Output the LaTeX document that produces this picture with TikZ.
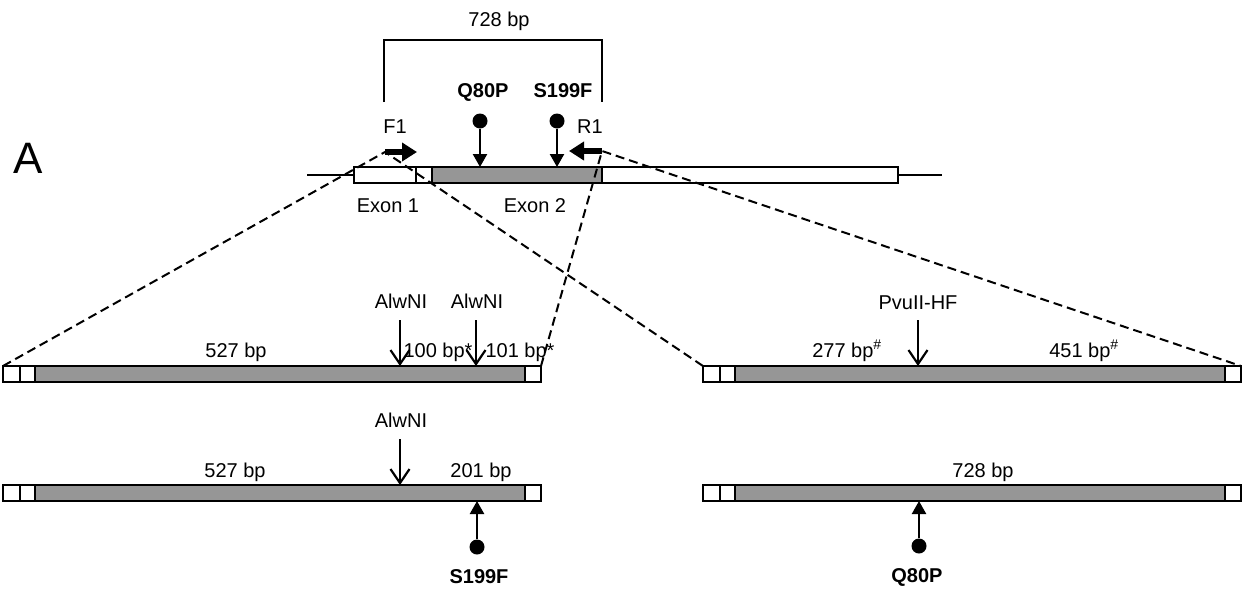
\documentclass[tikz,border=0pt]{standalone}
\usepackage{fontspec}
\setmainfont{Liberation Sans}
\usetikzlibrary{arrows.meta}
\definecolor{exongray}{RGB}{150,150,150}
\newcommand{\lblfont}{\fontsize{20}{23}\selectfont}

\begin{document}
\begin{tikzpicture}[x=1pt,y=-1pt,
  lbl/.style={font=\lblfont,anchor=base,inner sep=0pt},
  blbl/.style={font=\lblfont\bfseries,anchor=base,inner sep=0pt},
  segbox/.style={draw,line width=2.2pt},
  cutsite/.style={-{Straight Barb[length=14pt,width=19pt,line width=2.2pt]},line width=2.3pt},
  snp/.style={-{Triangle[length=13pt,width=14pt]},line width=2.3pt},
  snpdot/.style={circle,fill,inner sep=0pt,minimum size=15pt},
  primer/.style={-{Triangle[length=15pt,width=18pt]},line width=6pt},
  proj/.style={dash pattern=on 9pt off 5pt,line width=2pt}]
\useasboundingbox (0,0) rectangle (1245,590);
% panel letter
\node[font=\fontsize{44}{48}\selectfont,anchor=base,inner sep=0pt] (panel) at (28,173) {A};
% gene with exons
\draw[line width=2.2pt] (307,175) -- (942,175);
\draw[segbox,fill=white] (354,167) rectangle (416,183);
\draw[segbox,fill=white] (416,167) rectangle (432,183);
\draw[segbox,fill=exongray] (432,167) rectangle (602,183);
\draw[segbox,fill=white] (602,167) rectangle (898,183);
\node[lbl] (exon1) at (388,212) {Exon 1};
\node[lbl] (exon2) at (535,212) {Exon 2};
% amplicon bracket
\draw[line width=2.2pt] (384,102) |- (602,40) -- (602,102);
\node[lbl] (amplen) at (499,26) {728 bp};
% fragments
\foreach \fx/\fy in {3/366,703/366,3/485,703/485}{
  \draw[segbox,fill=white] (\fx,\fy) rectangle ++(17,16);
  \draw[segbox,fill=white] (\fx+17,\fy) rectangle ++(15,16);
  \draw[segbox,fill=exongray] (\fx+32,\fy) rectangle ++(490,16);
  \draw[segbox,fill=white] (\fx+522,\fy) rectangle ++(16,16);
}
\coordinate (lbarnw) at (3,366);
\coordinate (lbarne) at (541,366);
\coordinate (rbarnw) at (703,366);
\coordinate (rbarne) at (1241,366);
% projections
\coordinate (f1tail) at (385,152);
\coordinate (r1tail) at (602,151);
\draw[proj] (lbarnw) -- (f1tail) -- (rbarnw);
\draw[proj] (lbarne) -- (r1tail) -- (rbarne);
% primers
\draw[primer] (f1tail) -- (417,152);
\draw[primer] (r1tail) -- (569,151);
\node[lbl] (f1) at (395,133) {F1};
\node[lbl] (r1) at (590,133) {R1};
% mutations on the gene
\node[blbl] (q80p) at (483,97) {Q80P};
\node[blbl] (s199f) at (563,97) {S199F};
\node[snpdot] (q80pdot) at (480,121) {};
\node[snpdot] (s199fdot) at (557,121) {};
\coordinate (q80ptip) at (480,167);
\coordinate (s199ftip) at (557,167);
\draw[snp] (q80pdot) -- (q80ptip);
\draw[snp] (s199fdot) -- (s199ftip);
% digest of wild type, AlwNI
\node[lbl] (alw1) at (401,308) {AlwNI};
\node[lbl] (alw2) at (477,308) {AlwNI};
\draw[cutsite] (400,320) -- (400,366);
\draw[cutsite] (476,320) -- (476,366);
\node[lbl] (wtA) at (236,357) {527 bp};
\node[lbl] (wtB) at (438,357) {100 bp*};
\node[lbl] (wtC) at (520,357) {101 bp*};
% digest of wild type, PvuII-HF
\node[lbl] (pvu) at (918,309) {PvuII-HF};
\draw[cutsite] (918,320) -- (918,366);
\node[lbl] (wtD) at (847,357) {277 bp\textsuperscript{\#}};
\node[lbl] (wtE) at (1084,357) {451 bp\textsuperscript{\#}};
% digest of mutants
\node[lbl] (alw3) at (401,427) {AlwNI};
\draw[cutsite] (400,439) -- (400,485);
\node[lbl] (mtA) at (235,477) {527 bp};
\node[lbl] (mtB) at (481,477) {201 bp};
\node[lbl] (mtC) at (983,477) {728 bp};
\node[snpdot] (s199fdotb) at (477,547) {};
\node[snpdot] (q80pdotb) at (919,546) {};
\coordinate (s199ftipb) at (477,501);
\coordinate (q80ptipb) at (919,501);
\draw[snp] (s199fdotb) -- (s199ftipb);
\draw[snp] (q80pdotb) -- (q80ptipb);
\node[blbl] (s199fb) at (479,583) {S199F};
\node[blbl] (q80pb) at (917,582) {Q80P};
\end{tikzpicture}
\end{document}
